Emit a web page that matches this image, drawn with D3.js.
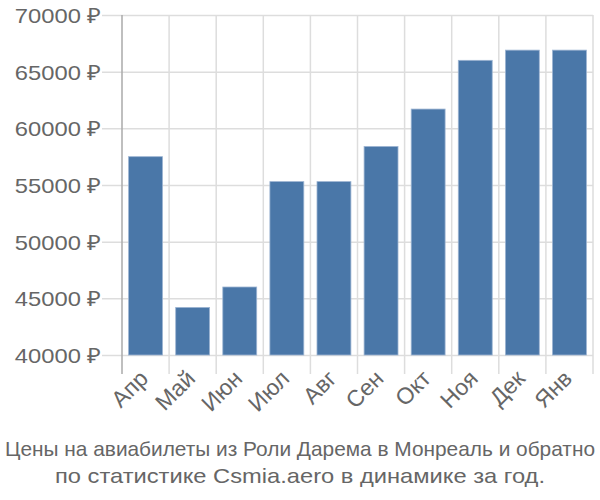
<!DOCTYPE html>
<html lang="ru">
<head>
  <meta charset="UTF-8" />
  <title>Цены на авиабилеты</title>
  <style>
    body { margin: 0; background: white; }
    svg { display: block; font-family: "Liberation Sans", Arial, sans-serif; }
    .tick text { fill: #666; font-size: 21px; }
    .xlab .tick text { font-size: 23px; }
    .title { fill: #666; font-size: 21px; }
  </style>
</head>
<body>
  <svg width="600" height="500"></svg>
  <script src="https://d3js.org/d3.v7.min.js"></script>
  <script>
    const months = ["Апр", "Май", "Июн", "Июл", "Авг", "Сен", "Окт", "Ноя", "Дек", "Янв"];
    const prices = [57500, 44200, 46000, 55300, 55300, 58400, 61700, 66000, 66900, 66900];
    const yTicks = [40000, 45000, 50000, 55000, 60000, 65000, 70000];
    const titleLines = [
      "Цены на авиабилеты из Роли Дарема в Монреаль и обратно",
      "по статистике Csmia.aero в динамике за год."
    ];
    const titleWidths = [590, 490];

    const margin = { top: 15, right: 7, bottom: 145, left: 122 };
    const width = 600, height = 500;
    const svg = d3.select("svg");

    const x = d3.scaleBand()
      .domain(months)
      .range([margin.left, width - margin.right])
      .paddingInner(0.28)
      .paddingOuter(0.14);

    const y = d3.scaleLinear()
      .domain([40000, 70000])
      .range([height - margin.bottom, margin.top]);

    const step = x.step();
    const x0 = margin.left;

    // horizontal gridlines
    svg.append("g")
      .selectAll("line")
      .data(yTicks)
      .join("line")
        .attr("x1", x0 - 20)
        .attr("x2", width - margin.right)
        .attr("y1", d => y(d) + 0.5)
        .attr("y2", d => y(d) + 0.5)
        .attr("stroke", "#ddd")
        .attr("stroke-width", 1.5);

    // vertical gridlines at band boundaries
    svg.append("g")
      .selectAll("line")
      .data(d3.range(1, months.length + 1))
      .join("line")
        .attr("x1", i => x0 + i * step)
        .attr("x2", i => x0 + i * step)
        .attr("y1", margin.top)
        .attr("y2", y(40000) + 19)
        .attr("stroke", "#ddd")
        .attr("stroke-width", 1.5);

    // y axis line
    svg.append("line")
      .attr("x1", x0).attr("x2", x0)
      .attr("y1", margin.top).attr("y2", y(40000) + 19)
      .attr("stroke", "#aaa")
      .attr("stroke-width", 1.5);

    // bars
    svg.append("g")
      .selectAll("rect")
      .data(months.map((m, i) => ({ m, v: prices[i] })))
      .join("rect")
        .attr("x", d => x(d.m))
        .attr("width", x.bandwidth())
        .attr("y", d => y(d.v))
        .attr("height", d => y(40000) - y(d.v))
        .attr("fill", "#4a77a8")
        .attr("stroke", "#9db5d3")
        .attr("stroke-width", 0.8);

    // y labels (reference font runs a little wider)
    const yAxis = svg.append("g")
      .attr("transform", `translate(${x0 - 20},0)`)
      .call(d3.axisLeft(y).tickValues(yTicks).tickSize(0).tickPadding(1)
        .tickFormat(d => d + " ₽"));
    yAxis.select(".domain").remove();
    yAxis.selectAll(".tick text")
      .attr("dy", "0.35em")
      .each(function () {
        const w = this.getComputedTextLength();
        d3.select(this).attr("textLength", w * 1.13).attr("lengthAdjust", "spacingAndGlyphs");
      });

    // x labels
    const xAxis = svg.append("g")
      .attr("class", "xlab")
      .attr("transform", `translate(0,${y(40000) + 14})`)
      .call(d3.axisBottom(x).tickSize(0).tickPadding(0));
    xAxis.select(".domain").remove();
    xAxis.selectAll(".tick text")
      .attr("text-anchor", "end")
      .attr("dx", 0)
      .attr("dy", 0)
      .attr("transform", "translate(4,11) rotate(-45)");

    // title
    svg.append("g")
      .selectAll("text")
      .data(titleLines)
      .join("text")
        .attr("class", "title")
        .attr("x", width / 2)
        .attr("y", (d, i) => 456 + i * 27)
        .attr("text-anchor", "middle")
        .attr("textLength", (d, i) => titleWidths[i])
        .attr("lengthAdjust", "spacingAndGlyphs")
        .text(d => d);
  </script>
</body>
</html>
